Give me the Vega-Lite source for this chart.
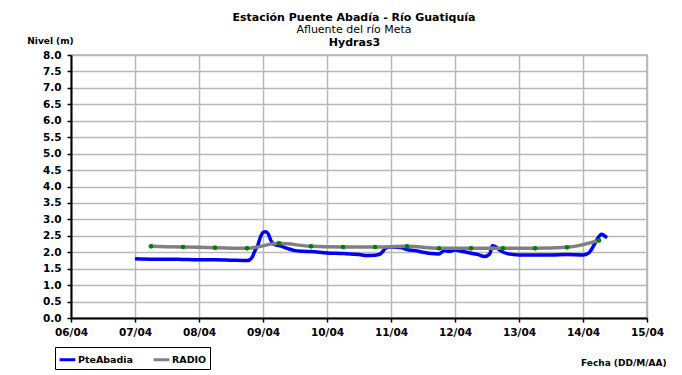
{
  "$schema": "https://vega.github.io/schema/vega-lite/v6.json",
  "autosize": "none",
  "width": 576,
  "height": 263,
  "padding": {"left": 71, "top": 55, "right": 35, "bottom": 57},
  "background": "white",
  "config": {
    "font": "DejaVu Sans",
    "view": {"stroke": "#b0b0b0", "strokeWidth": 1.5},
    "axis": {
      "labelFont": "DejaVu Sans",
      "labelFontWeight": "bold",
      "labelFontSize": 10.5,
      "labelColor": "black",
      "titleFont": "DejaVu Sans",
      "titleColor": "black",
      "domainColor": "black",
      "domainWidth": 2,
      "tickColor": "black",
      "tickWidth": 1.5,
      "tickSize": 4,
      "gridColor": "#b8b8b8",
      "gridWidth": 1.5,
      "gridOpacity": 1
    }
  },
  "title": {
    "text": "Estación Puente Abadía  - Río Guatiquía",
    "subtitle": "Afluente del río Meta",
    "font": "DejaVu Sans",
    "fontSize": 11,
    "fontWeight": "bold",
    "color": "black",
    "subtitleFont": "DejaVu Sans",
    "subtitleFontSize": 11,
    "subtitleColor": "black",
    "subtitlePadding": 1,
    "anchor": "middle",
    "dx": -5,
    "offset": 1
  },
  "data": {
    "values": [
      {"t": "2019-04-07T00:00:00", "v": 1.80, "s": "PteAbadia"},
      {"t": "2019-04-07T06:00:00", "v": 1.79, "s": "PteAbadia"},
      {"t": "2019-04-07T12:00:00", "v": 1.79, "s": "PteAbadia"},
      {"t": "2019-04-07T18:00:00", "v": 1.78, "s": "PteAbadia"},
      {"t": "2019-04-08T00:00:00", "v": 1.77, "s": "PteAbadia"},
      {"t": "2019-04-08T06:00:00", "v": 1.77, "s": "PteAbadia"},
      {"t": "2019-04-08T12:00:00", "v": 1.76, "s": "PteAbadia"},
      {"t": "2019-04-08T18:00:00", "v": 1.75, "s": "PteAbadia"},
      {"t": "2019-04-08T19:00:00", "v": 1.77, "s": "PteAbadia"},
      {"t": "2019-04-08T20:00:00", "v": 1.86, "s": "PteAbadia"},
      {"t": "2019-04-08T21:00:00", "v": 2.05, "s": "PteAbadia"},
      {"t": "2019-04-08T22:00:00", "v": 2.20, "s": "PteAbadia"},
      {"t": "2019-04-08T23:00:00", "v": 2.45, "s": "PteAbadia"},
      {"t": "2019-04-09T00:00:00", "v": 2.60, "s": "PteAbadia"},
      {"t": "2019-04-09T01:00:00", "v": 2.62, "s": "PteAbadia"},
      {"t": "2019-04-09T02:00:00", "v": 2.55, "s": "PteAbadia"},
      {"t": "2019-04-09T03:00:00", "v": 2.35, "s": "PteAbadia"},
      {"t": "2019-04-09T04:00:00", "v": 2.25, "s": "PteAbadia"},
      {"t": "2019-04-09T05:00:00", "v": 2.22, "s": "PteAbadia"},
      {"t": "2019-04-09T06:00:00", "v": 2.20, "s": "PteAbadia"},
      {"t": "2019-04-09T09:00:00", "v": 2.12, "s": "PteAbadia"},
      {"t": "2019-04-09T12:00:00", "v": 2.05, "s": "PteAbadia"},
      {"t": "2019-04-09T15:00:00", "v": 2.03, "s": "PteAbadia"},
      {"t": "2019-04-09T18:00:00", "v": 2.02, "s": "PteAbadia"},
      {"t": "2019-04-10T00:00:00", "v": 1.98, "s": "PteAbadia"},
      {"t": "2019-04-10T06:00:00", "v": 1.96, "s": "PteAbadia"},
      {"t": "2019-04-10T12:00:00", "v": 1.93, "s": "PteAbadia"},
      {"t": "2019-04-10T15:00:00", "v": 1.90, "s": "PteAbadia"},
      {"t": "2019-04-10T18:00:00", "v": 1.91, "s": "PteAbadia"},
      {"t": "2019-04-10T20:00:00", "v": 1.95, "s": "PteAbadia"},
      {"t": "2019-04-10T22:00:00", "v": 2.12, "s": "PteAbadia"},
      {"t": "2019-04-11T00:00:00", "v": 2.16, "s": "PteAbadia"},
      {"t": "2019-04-11T04:00:00", "v": 2.14, "s": "PteAbadia"},
      {"t": "2019-04-11T06:00:00", "v": 2.08, "s": "PteAbadia"},
      {"t": "2019-04-11T09:00:00", "v": 2.05, "s": "PteAbadia"},
      {"t": "2019-04-11T12:00:00", "v": 2.00, "s": "PteAbadia"},
      {"t": "2019-04-11T15:00:00", "v": 1.96, "s": "PteAbadia"},
      {"t": "2019-04-11T18:00:00", "v": 1.95, "s": "PteAbadia"},
      {"t": "2019-04-11T20:00:00", "v": 2.05, "s": "PteAbadia"},
      {"t": "2019-04-11T22:00:00", "v": 2.03, "s": "PteAbadia"},
      {"t": "2019-04-12T00:00:00", "v": 2.07, "s": "PteAbadia"},
      {"t": "2019-04-12T02:00:00", "v": 2.04, "s": "PteAbadia"},
      {"t": "2019-04-12T06:00:00", "v": 1.97, "s": "PteAbadia"},
      {"t": "2019-04-12T09:00:00", "v": 1.92, "s": "PteAbadia"},
      {"t": "2019-04-12T11:00:00", "v": 1.87, "s": "PteAbadia"},
      {"t": "2019-04-12T13:00:00", "v": 1.95, "s": "PteAbadia"},
      {"t": "2019-04-12T14:00:00", "v": 2.20, "s": "PteAbadia"},
      {"t": "2019-04-12T15:00:00", "v": 2.18, "s": "PteAbadia"},
      {"t": "2019-04-12T17:00:00", "v": 2.05, "s": "PteAbadia"},
      {"t": "2019-04-12T20:00:00", "v": 1.95, "s": "PteAbadia"},
      {"t": "2019-04-13T00:00:00", "v": 1.92, "s": "PteAbadia"},
      {"t": "2019-04-13T12:00:00", "v": 1.92, "s": "PteAbadia"},
      {"t": "2019-04-13T18:00:00", "v": 1.93, "s": "PteAbadia"},
      {"t": "2019-04-14T00:00:00", "v": 1.92, "s": "PteAbadia"},
      {"t": "2019-04-14T02:00:00", "v": 1.97, "s": "PteAbadia"},
      {"t": "2019-04-14T04:00:00", "v": 2.20, "s": "PteAbadia"},
      {"t": "2019-04-14T05:00:00", "v": 2.35, "s": "PteAbadia"},
      {"t": "2019-04-14T07:00:00", "v": 2.55, "s": "PteAbadia"},
      {"t": "2019-04-14T08:00:00", "v": 2.50, "s": "PteAbadia"},
      {"t": "2019-04-14T09:00:00", "v": 2.44, "s": "PteAbadia"},
      {"t": "2019-04-07T06:00:00", "v": 2.18, "s": "RADIO"},
      {"t": "2019-04-07T18:00:00", "v": 2.16, "s": "RADIO"},
      {"t": "2019-04-08T06:00:00", "v": 2.14, "s": "RADIO"},
      {"t": "2019-04-08T18:00:00", "v": 2.12, "s": "RADIO"},
      {"t": "2019-04-09T06:00:00", "v": 2.27, "s": "RADIO"},
      {"t": "2019-04-09T18:00:00", "v": 2.18, "s": "RADIO"},
      {"t": "2019-04-10T06:00:00", "v": 2.16, "s": "RADIO"},
      {"t": "2019-04-10T18:00:00", "v": 2.16, "s": "RADIO"},
      {"t": "2019-04-11T06:00:00", "v": 2.18, "s": "RADIO"},
      {"t": "2019-04-11T18:00:00", "v": 2.12, "s": "RADIO"},
      {"t": "2019-04-12T06:00:00", "v": 2.12, "s": "RADIO"},
      {"t": "2019-04-12T18:00:00", "v": 2.12, "s": "RADIO"},
      {"t": "2019-04-13T06:00:00", "v": 2.12, "s": "RADIO"},
      {"t": "2019-04-13T18:00:00", "v": 2.15, "s": "RADIO"},
      {"t": "2019-04-14T06:00:00", "v": 2.36, "s": "RADIO"}
    ]
  },
  "resolve": {"axis": {"x": "independent"}},
  "encoding": {
    "y": {
      "field": "v", "type": "quantitative",
      "scale": {"domain": [0, 8], "nice": false},
      "axis": {
        "values": [0, 0.5, 1, 1.5, 2, 2.5, 3, 3.5, 4, 4.5, 5, 5.5, 6, 6.5, 7, 7.5, 8],
        "format": ".1f",
        "labelOverlap": false,
        "title": "Nivel (m)",
        "titleFontSize": 9,
        "titleFontWeight": "bold",
        "titleAngle": 0,
        "titleAlign": "center",
        "titleBaseline": "middle",
        "titleX": -21,
        "titleY": -15,
        "labelPadding": 6
      }
    }
  },
  "layer": [
    {
      "mark": {"type": "line", "strokeWidth": 3.5, "interpolate": "monotone"},
      "encoding": {
        "x": {
          "field": "t", "type": "temporal",
          "scale": {"domain": [{"year": 2019, "month": 4, "date": 6}, {"year": 2019, "month": 4, "date": 15}]},
          "axis": {
            "orient": "bottom",
            "format": "%d/%m",
            "tickCount": {"interval": "day", "step": 1},
            "title": "Fecha (DD/M/AA)",
            "titleFontSize": 9,
            "titleFontWeight": "bold",
            "titleAnchor": "end",
            "titleAlign": "right",
            "titleBaseline": "middle",
            "titleX": 595,
            "titleY": 44,
            "labelPadding": 5,
            "labelFlush": false,
            "labelOverlap": false
          }
        },
        "color": {
          "field": "s", "type": "nominal",
          "scale": {"domain": ["PteAbadia", "RADIO"], "range": ["#0000ff", "#808080"]},
          "legend": {
            "title": null,
            "orient": "none",
            "direction": "horizontal",
            "legendX": -16,
            "legendY": 292,
            "symbolType": "stroke",
            "symbolStrokeWidth": 3,
            "symbolSize": 250,
            "labelFont": "DejaVu Sans",
            "labelFontWeight": "bold",
            "labelFontSize": 9.5,
            "labelColor": "black",
            "strokeColor": "black",
            "padding": 3,
            "columnPadding": 14,
            "labelOffset": 1
          }
        }
      }
    },
    {
      "transform": [{"filter": "datum.s === 'RADIO'"}],
      "mark": {"type": "point", "filled": true, "color": "#008000", "size": 22, "opacity": 1},
      "encoding": {
        "x": {
          "field": "t", "type": "temporal",
          "axis": {
            "orient": "top",
            "title": "Hydras3",
            "titleFontSize": 11,
            "titleFontWeight": "bold",
            "titlePadding": 8,
            "labels": false,
            "ticks": false,
            "domain": false,
            "grid": false,
            "titleX": 283
          }
        }
      }
    }
  ]
}
